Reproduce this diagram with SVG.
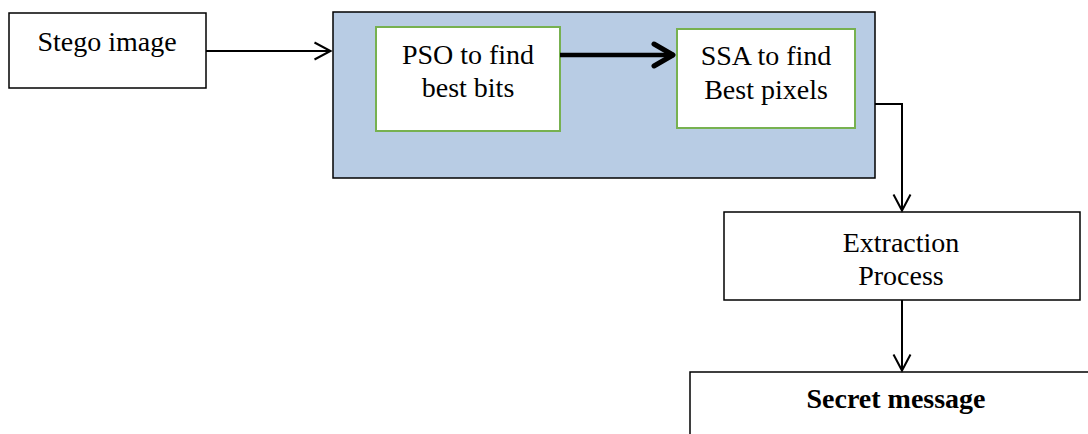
<svg xmlns="http://www.w3.org/2000/svg" width="1088" height="434" viewBox="0 0 1088 434">
<style>
.t{font-family:'Liberation Serif',serif;font-size:28px;fill:#000;text-anchor:middle}
.b{font-weight:bold}
.box{fill:#fff;stroke:#000;stroke-width:1.5}
.gbox{fill:#fff;stroke:#77b150;stroke-width:2}
.ln{fill:none;stroke:#000;stroke-width:2}
.thick{fill:none;stroke:#000;stroke-width:4.5}
</style>
<defs>
<marker id="ah" viewBox="0 0 19 20" refX="17.5" refY="10" markerWidth="19" markerHeight="20" markerUnits="userSpaceOnUse" orient="auto">
<path d="M1,1.5 L17,10 L1,18.5" fill="none" stroke="#000" stroke-width="2"/>
</marker>
<marker id="ahb" viewBox="0 0 26 28" refX="23" refY="14" markerWidth="26" markerHeight="28" markerUnits="userSpaceOnUse" orient="auto">
<path d="M3,3 L22,14 L3,25" fill="none" stroke="#000" stroke-width="5" stroke-linecap="round" stroke-linejoin="round"/>
</marker>
</defs>
<g id="stego">
<rect class="box" x="9" y="13" width="197" height="75"/>
<text class="t" x="107" y="51">Stego image</text>
</g>
<g id="container">
<rect x="333" y="12" width="542" height="166" fill="#b8cce4" stroke="#000" stroke-width="1.5"/>
</g>
<g id="pso">
<rect class="gbox" x="376" y="27" width="184" height="104"/>
<text class="t" x="468" y="64">PSO to find</text>
<text class="t" x="468" y="97">best bits</text>
</g>
<g id="ssa">
<rect class="gbox" x="677" y="29" width="178" height="99"/>
<text class="t" x="766" y="65">SSA to find</text>
<text class="t" x="766" y="99">Best pixels</text>
</g>
<g id="extraction">
<rect class="box" x="724" y="212" width="356" height="88"/>
<text class="t" x="901" y="252">Extraction</text>
<text class="t" x="901" y="285">Process</text>
</g>
<g id="secret">
<rect class="box" x="690" y="372" width="420" height="80"/>
<text class="t b" x="896" y="408">Secret message</text>
</g>
<g id="connectors">
<line class="ln" x1="206" y1="51" x2="331" y2="51" marker-end="url(#ah)"/>
<line class="thick" x1="560" y1="55" x2="674" y2="55" marker-end="url(#ahb)"/>
<polyline class="ln" points="875,104 902,104 902,211" marker-end="url(#ah)"/>
<line class="ln" x1="902" y1="300" x2="902" y2="371" marker-end="url(#ah)"/>
</g>
</svg>
